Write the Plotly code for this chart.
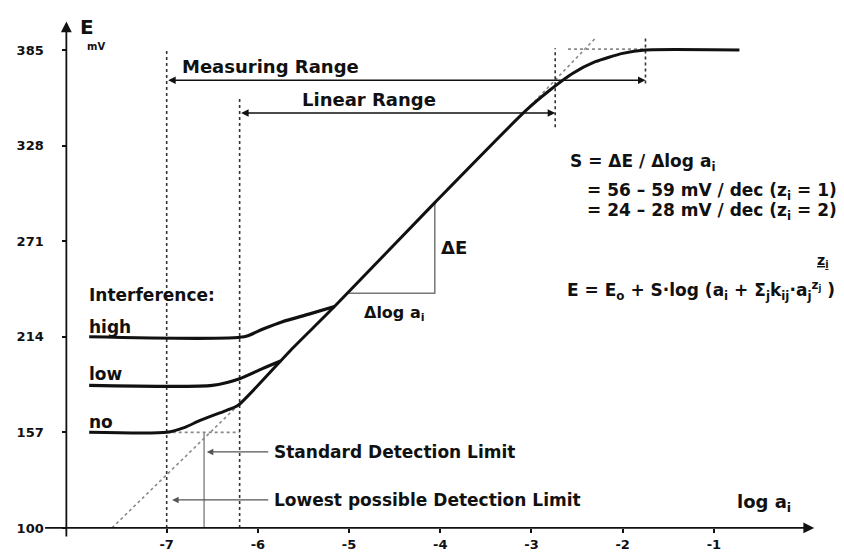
import plotly.graph_objects as go

# ---------------- data (log a_i , E in mV) ----------------
y_tickvals = [100, 157, 214, 271, 328, 385]
y_ticktext = ["100", "157", "214", "271", "328", "385"]
x_tickvals = [-7, -6, -5, -4, -3, -2, -1]
x_ticktext = ["-7", "-6", "-5", "-4", "-3", "-2", "-1"]

# electrode response, no interference
no_x = [-7.85, -7.0, -6.8, -6.64, -6.35, -6.22, -5.64, -5.16, -4.06, -3.06, -2.8, -2.55, -2.3, -2.0, -1.75, -0.72]
no_y = [157, 157, 160, 164, 170, 173, 206, 232, 294, 349, 361, 371, 378, 383, 385, 385]
# low interference
low_x = [-7.85, -6.5, -6.2, -5.95, -5.75]
low_y = [185, 185, 189, 195, 199.5]
# high interference
high_x = [-7.85, -6.15, -5.95, -5.73, -5.44, -5.16]
high_y = [214, 214, 218.5, 223, 227.5, 232]

# extrapolated linear part (grey dotted)
extra_low_x = [-7.6, -6.22]
extra_low_y = [100, 173]
extra_high_x = [-3.06, -2.3]
extra_high_y = [349, 392]
base_no_x = [-7.0, -6.2]
base_no_y = [157, 157]
top_sat_x = [-2.6, -1.75]
top_sat_y = [385.5, 385.5]

# slope triangle
tri_x = [-5.02, -4.06, -4.06]
tri_y = [240, 240, 294]

# ranges / limits
meas_range = [-7.0, -1.75]
meas_E = 367
lin_range = [-6.2, -2.74]
lin_E = 347.5
std_limit = -6.59
std_E = 145.3
lowest_limit = -7.0
lowest_E = 116.7
label_start = -5.87

# dotted range markers (x, E from, E to)
markers = [(-7.0, 100, 386), (-6.2, 100, 357), (-2.74, 339, 386), (-1.75, 365, 392)]

# ---------------- geometry ----------------
W, H = 844, 557
ml, mr, mt, mb = 39, 2, 15, 19
px_per_dec = 91.2
px_per_mv = 1.677
xmin = -8.4
xmax = xmin + (W - ml - mr) / px_per_dec
ymin = 94.0
ymax = ymin + (H - mt - mb) / px_per_mv
x_axis_at = -8.1
y_axis_at = 100

FONT = "DejaVu Sans"
BLACK = "#111111"
GREY = "#8a8a8a"

fig = go.Figure()

def line(x, y, color=BLACK, width=3, dash="solid", shape="linear"):
    fig.add_trace(go.Scatter(x=x, y=y, mode="lines", hoverinfo="skip", showlegend=False,
                             line=dict(color=color, width=width, dash=dash, shape=shape,
                                       smoothing=0.6 if shape == "spline" else None)))

# grey helper lines
line(extra_low_x, extra_low_y, GREY, 1.6, "dot")
line(extra_high_x, extra_high_y, GREY, 1.6, "dot")
line(base_no_x, base_no_y, GREY, 1.6, "dot")
line(top_sat_x, top_sat_y, GREY, 1.6, "dot")
line([std_limit, std_limit], [100, 157], GREY, 1.5)
line(tri_x, tri_y, "#777777", 1.5)

# dotted markers
for xm, e0, e1 in markers:
    line([xm, xm], [e0, e1], "#333333", 1.6, "dot")

# curves
line(high_x, high_y, BLACK, 3.2, shape="spline")
line(low_x, low_y, BLACK, 3.2, shape="spline")
line(no_x, no_y, BLACK, 3.0, shape="spline")

ann = []

def arrow(x, y, ax, ay, color=BLACK, width=1.5, both=False, size=1.0, head=2):
    d = dict(x=x, y=y, ax=ax, ay=ay, xref="x", yref="y", axref="x", ayref="y",
             text="", showarrow=True, arrowhead=head, arrowsize=size, arrowwidth=width,
             arrowcolor=color)
    if both:
        d.update(arrowside="end+start", startarrowhead=head, startarrowsize=size)
    ann.append(d)

def text(x, y, s, size, xanchor="left", yanchor="middle", color=BLACK):
    ann.append(dict(x=x, y=y, xref="x", yref="y", text=s, showarrow=False,
                    xanchor=xanchor, yanchor=yanchor,
                    font=dict(family=FONT, size=size, color=color)))

# axes arrows
arrow(x_axis_at, 402, x_axis_at, ymin, BLACK, 1.8, size=1.2)
arrow(0.1, y_axis_at, -8.35, y_axis_at, BLACK, 1.8, size=1.2)

# ranges
arrow(meas_range[1], meas_E, meas_range[0], meas_E, BLACK, 1.5, both=True)
arrow(lin_range[1], lin_E, lin_range[0], lin_E, BLACK, 1.5, both=True)
text(-6.85, meas_E + 0.5, "<b>Measuring Range</b>", 18, yanchor="bottom")
text(-5.54, lin_E + 0.5, "<b>Linear Range</b>", 18, yanchor="bottom")

# detection limits
arrow(std_limit + 0.03, std_E, label_start, std_E, "#555555", 1.3)
arrow(lowest_limit + 0.06, lowest_E, label_start, lowest_E, "#555555", 1.3)
text(label_start + 0.02, std_E, "<b>Standard Detection Limit</b>", 17)
text(label_start + 0.02, lowest_E, "<b>Lowest possible Detection Limit</b>", 17)

# interference labels
text(-7.87, 239, "<b>Interference:</b>", 17)
text(-7.87, 220, "<b>high</b>", 17)
text(-7.87, 191.5, "<b>low</b>", 17)
text(-7.87, 163, "<b>no</b>", 17)

# slope triangle labels
text(-4.01, 267, "<b>ΔE</b>", 18)
text(-4.5, 228, "<b>Δlog a<sub>i</sub></b>", 16, xanchor="center")

# equations
text(-2.6, 318, "<b>S = ΔE / Δlog a<sub>i</sub></b>", 17)
text(-2.41, 300.4, "<b>= 56 – 59 mV / dec (z<sub>i</sub> = 1)</b>", 17)
text(-2.41, 288.4, "<b>= 24 – 28 mV / dec (z<sub>i</sub> = 2)</b>", 17)
text(-2.63, 241.5, "<b>E = E<sub>o</sub> + S·log (a<sub>i</sub> + Σ<sub>j</sub>k<sub>ij</sub>·a<sub>j</sub><sup>z<sub>j</sub></sup> )</b>", 17)
text(0.2, 259, "<b><u>z<sub>i</sub></u></b>", 14, xanchor="center")

# axis titles
text(-7.87, 399, "<b>E</b>", 20, xanchor="center")
text(-7.77, 387, "<b>mV</b>", 10, xanchor="center")
text(-0.77, 115, "<b>log a<sub>i</sub></b>", 18)

fig.update_layout(
    width=W, height=H,
    margin=dict(l=ml, r=mr, t=mt, b=mb, autoexpand=False),
    paper_bgcolor="white", plot_bgcolor="white",
    font=dict(family=FONT, color=BLACK),
    annotations=ann,
    xaxis=dict(range=[xmin, xmax], anchor="free",
               position=(y_axis_at - ymin) / (ymax - ymin),
               showline=False, showgrid=False, zeroline=False,
               tickmode="array", tickvals=x_tickvals, ticktext=["<b>%s</b>" % t for t in x_ticktext],
               ticks="outside", ticklen=4, tickwidth=1.5, tickcolor=BLACK,
               tickfont=dict(family=FONT, size=13, color=BLACK), ticklabelstandoff=0),
    yaxis=dict(range=[ymin, ymax], anchor="free",
               position=(x_axis_at - xmin) / (xmax - xmin),
               showline=False, showgrid=False, zeroline=False,
               tickmode="array", tickvals=y_tickvals, ticktext=["<b>%s</b>" % t for t in y_ticktext],
               ticks="outside", ticklen=4, tickwidth=1.5, tickcolor=BLACK,
               tickfont=dict(family=FONT, size=13, color=BLACK), ticklabelstandoff=16),
)

fig.write_html("out.html", config={"displayModeBar": False},
               post_script="document.body.style.margin='0';")
